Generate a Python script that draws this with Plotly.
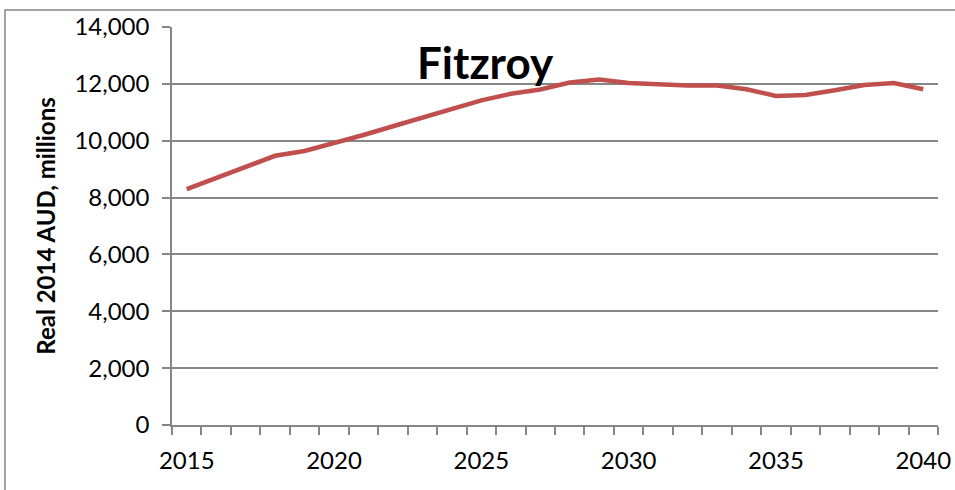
import plotly.graph_objects as go

years = list(range(2015, 2041))
values = [8300, 8690, 9080, 9470, 9640, 9900, 10200, 10510, 10820, 11130,
          11420, 11650, 11800, 12050, 12150, 12030, 11975, 11940, 11940, 11810,
          11575, 11610, 11775, 11960, 12030, 11810]
x_tick_vals = [2015, 2020, 2025, 2030, 2035, 2040]
y_tick_vals = [0, 2000, 4000, 6000, 8000, 10000, 12000, 14000]
title_text = "Fitzroy"
y_title = "Real 2014 AUD, millions"

W, H = 955, 490
L, R, T, B = 172, 17, 27, 65
pw, ph = W - L - R, H - T - B

grid = "#868686"
fig = go.Figure()
fig.add_trace(go.Scatter(x=years, y=values, mode="lines",
                         line=dict(color="#C0504D", width=4.5), showlegend=False))

fig.update_layout(
    width=W, height=H,
    margin=dict(l=L, r=R, t=T, b=B),
    paper_bgcolor="white", plot_bgcolor="white",
    font=dict(family="Lato, Carlito, sans-serif", color="black"),
    xaxis=dict(range=[2014.5, 2040.5], tickvals=x_tick_vals,
               ticktext=[str(v) for v in x_tick_vals], automargin=False,
               ticks="", showgrid=False, showline=True, linecolor=grid, linewidth=1.5,
               tickfont=dict(size=24), zeroline=False, ticklabelstandoff=13,
               minor=dict(tick0=2014.5, dtick=1, ticks="outside", ticklen=8,
                          tickcolor=grid, tickwidth=1.5, showgrid=False)),
    yaxis=dict(range=[0, 14000], tickvals=y_tick_vals, tickformat=",", automargin=False,
               ticks="outside", ticklen=8, tickcolor=grid, tickwidth=1.5,
               showgrid=True, gridcolor=grid, gridwidth=1.5, ticklabelstandoff=8,
               showline=True, linecolor=grid, linewidth=1.5, zeroline=False,
               tickfont=dict(size=24),
               title=dict(text=y_title, font=dict(size=24, family="Lato, sans-serif", weight="bold"),
                          standoff=12)),
)

fig.add_annotation(text="<b>" + title_text + "</b>", xref="paper", yref="paper",
                   x=(485 - L) / pw, y=(H - B - 62) / ph, xanchor="center", yanchor="middle",
                   showarrow=False, font=dict(size=44, color="black"))

fig.add_shape(type="rect", xref="paper", yref="paper",
              x0=(5 - L) / pw, x1=(962 - L) / pw,
              y0=(H - B - 497) / ph, y1=(H - B - 10) / ph,
              line=dict(color=grid, width=1.5), fillcolor="rgba(0,0,0,0)", layer="below")

fig.write_html("out.html", config={"displayModeBar": False},
               post_script="document.body.style.margin='0';document.body.style.overflow='hidden';")
